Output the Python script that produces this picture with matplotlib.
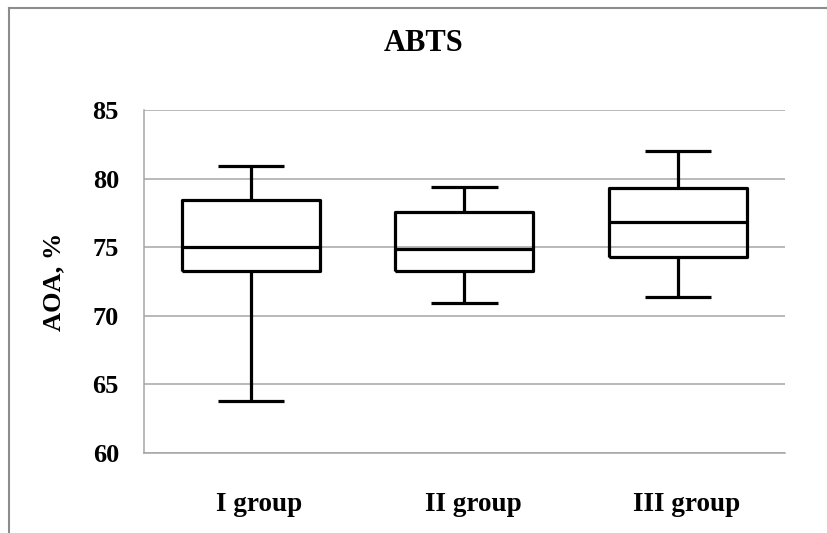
import matplotlib
matplotlib.use("Agg")
import matplotlib.pyplot as plt
from matplotlib.lines import Line2D

# box plot summary
groups = ["I group", "II group", "III group"]
whisker_low = [63.8, 70.9, 71.4]
q1 = [73.3, 73.3, 74.25]
median = [75.05, 74.9, 76.85]
q3 = [78.45, 77.55, 79.3]
whisker_high = [80.9, 79.4, 82.0]
yticks = [60, 65, 70, 75, 80, 85]

plt.rcParams['font.family'] = 'serif'
plt.rcParams['font.serif'] = ['Liberation Serif', 'DejaVu Serif']
plt.rcParams['font.weight'] = 'bold'

fig = plt.figure(figsize=(8.27, 5.33), dpi=100)
ax = fig.add_axes([0.1741, 0.1501, 0.7751, 0.6435])

stats = []
for i, name in enumerate(groups):
    stats.append(dict(label=name, whislo=whisker_low[i], q1=q1[i],
                      med=median[i], q3=q3[i], whishi=whisker_high[i]))

line = dict(color='black', linewidth=2.3, solid_capstyle='butt')
ax.bxp(stats, positions=[1, 2, 3], widths=0.646, showfliers=False,
       boxprops=line, whiskerprops=line, capprops=line, medianprops=line,
       capwidths=0.31)

ax.set_xlim(0.5, 3.5)
ax.set_ylim(60, 85)
ax.set_yticks(yticks)
ax.set_yticklabels([str(t) for t in yticks], fontsize=19, fontweight='bold')
ax.set_xticks([1.04, 2.04, 3.04])
ax.set_xticklabels(groups, fontsize=19.5, fontweight='bold')
ax.tick_params(axis='both', length=0)
ax.tick_params(axis='y', pad=18)
ax.tick_params(axis='x', pad=28)

ax.grid(axis='y', color='#a6a6a6', linewidth=1.1)
ax.set_axisbelow(True)
for side in ['top', 'right']:
    ax.spines[side].set_visible(False)
for side in ['left', 'bottom']:
    ax.spines[side].set_color('#a6a6a6')
    ax.spines[side].set_linewidth(1.1)

ax.set_ylabel("AOA, %", fontsize=19, fontweight='bold', labelpad=20)
fig.text(424 / 827, 1 - 43 / 533, "ABTS", ha='center', va='center',
         fontsize=22, fontweight='bold')

# chart frame (only top and left edges are visible in the reference)
fig.add_artist(Line2D([9 / 827, 9 / 827], [0, 1 - 8 / 533],
                      transform=fig.transFigure, color='#8c8c8c', linewidth=1.5))
fig.add_artist(Line2D([9 / 827, 1], [1 - 8 / 533, 1 - 8 / 533],
                      transform=fig.transFigure, color='#8c8c8c', linewidth=1.5))

fig.savefig("out.png", dpi=100)
